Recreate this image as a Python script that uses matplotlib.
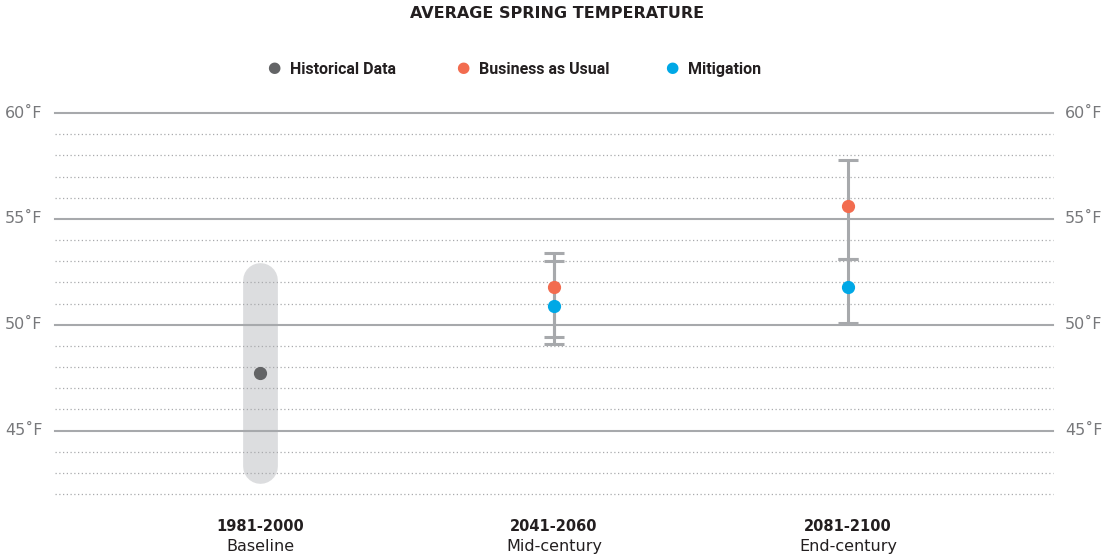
import numpy as np
import matplotlib
matplotlib.use('Agg')
import matplotlib.pyplot as plt

# data
periods = ['1981-2000', '2041-2060', '2081-2100']
period_names = ['Baseline', 'Mid-century', 'End-century']

hist_mean = 47.7
hist_low, hist_high = 43.3, 52.1

bau_mean = [51.8, 55.6]
bau_low = [49.4, 53.1]
bau_high = [53.4, 57.8]

mit_mean = [50.9, 51.8]
mit_low = [49.1, 50.1]
mit_high = [53.0, 53.1]

major_ticks = [45, 50, 55, 60]
minor_ticks = [42, 43, 44, 46, 47, 48, 49, 51, 52, 53, 54, 56, 57, 58, 59]

c_hist = '#636466'
c_bau = '#f26c4f'
c_mit = '#00a8e6'
c_err = '#a7a9ac'
c_text = '#231f20'
c_tick = '#77787b'

fig = plt.figure(figsize=(11.15, 5.59), dpi=100)
ax = fig.add_axes([55 / 1115, 65 / 559, 998 / 1115, 381 / 559])
ax.set_xlim(-0.697, 2.697)
ax.set_ylim(42, 60)
ax.axis('off')

# gridlines
for t in major_ticks:
    ax.axhline(t, color=c_err, lw=1.5, zorder=3, clip_on=False)
for t in minor_ticks:
    ax.axhline(t, color='#a9aaad', lw=0.9, ls=(0, (1, 2)), zorder=3,
               clip_on=False)

# baseline range bar
ax.plot([0, 0], [hist_low, hist_high], color='#dcdddf', lw=25,
        solid_capstyle='round', zorder=1)
ax.plot(0, hist_mean, 'o', color=c_hist, ms=8.5, zorder=5)

# projections
xs = [1, 2]
for i, x in enumerate(xs):
    for lo, hi in [(bau_low[i], bau_high[i]), (mit_low[i], mit_high[i])]:
        ax.errorbar(x, (lo + hi) / 2, yerr=(hi - lo) / 2, fmt='none',
                    ecolor=c_err, elinewidth=2.2, capsize=7, capthick=2.2,
                    zorder=4)
ax.plot(xs, bau_mean, 'o', color=c_bau, ms=8.5, ls='none', zorder=5)
ax.plot(xs, mit_mean, 'o', color=c_mit, ms=8.5, ls='none', zorder=5)

# y labels both sides
for t in major_ticks:
    y = ax.transData.transform((0, t))[1]
    fy = y / fig.bbox.height
    fig.text(5 / 1115, fy, f'{t}˚F', color=c_tick, fontsize=11.5,
             va='center', ha='left')
    fig.text(1065 / 1115, fy, f'{t}˚F', color=c_tick, fontsize=11.5,
             va='center', ha='left')

# category labels
for i, (p, n) in enumerate(zip(periods, period_names)):
    fx = ax.transAxes.inverted().transform(ax.transData.transform((i, 0)))[0]
    fx = (55 + fx * 998) / 1115
    fig.text(fx, 1 - 525 / 559, p, ha='center', va='center_baseline',
             fontsize=10.5, fontweight='bold', color=c_text)
    fig.text(fx, 1 - 545 / 559, n, ha='center', va='center_baseline',
             fontsize=11.5, color=c_text)

fig.text(0.5, 1 - 14 / 559, 'AVERAGE SPRING TEMPERATURE', ha='center',
         va='center', fontsize=11.5, fontweight='bold', color=c_text)

# legend
leg = [('Historical Data', c_hist, 274), ('Business as Usual', c_bau, 463),
       ('Mitigation', c_mit, 672)]
for label, col, px in leg:
    fig.text(px / 1115, 1 - 68 / 559, '●', color=col, fontsize=11,
             ha='center', va='center')
    fig.text((px + 16) / 1115, 1 - 68 / 559, label, color=c_text,
             fontsize=11.5, fontweight='bold', family='Roboto',
             ha='left', va='center_baseline')

fig.savefig('out.png', dpi=100)
